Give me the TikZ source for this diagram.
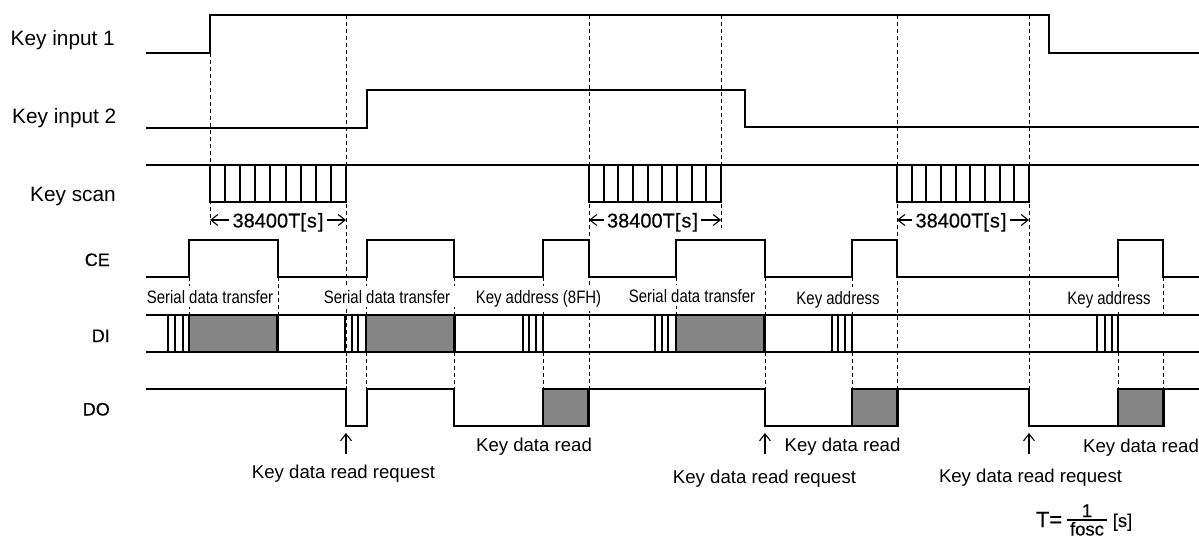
\documentclass[tikz,border=0pt]{standalone}
\usepackage{fontspec}
\setmainfont{Liberation Sans}
\newfontfamily\narrowfont[FakeStretch=0.83]{Liberation Sans}
\newfontfamily\waveformfont[FakeBold=0.4]{Liberation Sans}
\usetikzlibrary{arrows.meta, calc}
\tikzset{
  sig/.style={line width=2.8pt, miter limit=10},
  guide/.style={line width=1pt, dash pattern=on 4pt off 3pt},
  tick/.style={line width=2.1pt},
  dat/.style={line width=2.2pt, draw=black, fill=black!48},
  arrw/.style={-{Straight Barb[length=7pt, width=11pt]}, line width=1.1pt},
  lbl/.style={inner sep=0pt, anchor=base, font=\fontsize{18.6}{20}\selectfont},
  lblkey/.style={inner sep=0pt, anchor=base east, font=\fontsize{20.8}{22}\selectfont},
  lblsig/.style={inner sep=0pt, anchor=base east, font=\fontsize{18}{20}\waveformfont},
  lblnar/.style={inner xsep=1pt, inner ysep=4pt, fill=white, anchor=base, font=\fontsize{18}{20}\narrowfont},
  lblscan/.style={inner sep=0pt, anchor=base, font=\fontsize{20}{22}\waveformfont},
  lblform/.style={inner sep=0pt, anchor=base, font=\fontsize{18.5}{21}\waveformfont}
}
\begin{document}
\begin{tikzpicture}[x=1pt, y=-1pt]
    \useasboundingbox (0,0) rectangle (1199,538);
    \node[lblkey] (k1) at (115,45) {Key input 1};
    \node[lblkey] (k2) at (116.5,123) {Key input 2};
    \node[lblkey] (ks) at (116,201) {Key scan};
    \node[lblsig] (ce) at (110,266) {CE};
    \node[lblsig] (di) at (110,342) {DI};
    \node[lblsig] (do) at (110,415.5) {DO};

    \foreach \x/\a/\b in {210/53/228, 346/15/389, 589/15/389, 721/15/228, 897/15/389,
                          1029/15/389, 189/277/315, 278/277/315, 366/277/315, 454/277/315,
                          543/277/315, 676/277/315, 765/277/315, 852/277/315, 1118/277/315,
                          1163/277/315, 346/352/389, 366/352/389, 454/352/389, 543/352/389,
                          765/352/389, 852/352/389, 1118/352/389, 1163/352/389}
      \draw[guide] (\x,\a) -- (\x,\b);

    \node[lblnar] (sd1) at (210,303) {Serial data transfer};
    \node[lblnar, inner xsep=5pt] (sd2) at (387,303) {Serial data transfer};
    \node[lblnar] (ka1) at (538.5,303) {Key address (8FH)};
    \node[lblnar] (sd3) at (692,302) {Serial data transfer};
    \node[lblnar] (ka2) at (838,304) {Key address};
    \node[lblnar] (ka3) at (1109,304) {Key address};

    \draw[sig] (146,53) -| (210,15) -| (1049,53) -- (1199,53);
    \draw[sig] (146,128) -| (367,90) -| (745,127) -- (1199,127);

    \draw[sig] (146,165) -- (1199,165);
    \foreach \l/\r in {210/346, 589/721, 897/1029} {
      \draw[sig] (\l,165) |- (\r,202) -- (\r,165);
      \foreach \i in {1,...,8}
        \draw[tick] ({\l+\i*(\r-\l)/9},165) -- ({\l+\i*(\r-\l)/9},202);
    }

    \foreach \n/\l/\c/\r in {a/210/278/346, b/589/652.5/721, c/897/961/1029} {
      \node[lblscan] (scan\n) at (\c,227.5) {38400T[\kern1pt s\kern1pt]};
      \coordinate (scan\n L) at (\l,220);
      \coordinate (scan\n R) at (\r,220);
      \draw[arrw] ([xshift=-3pt]scan\n.west |- scan\n L) -- (scan\n L);
      \draw[arrw] ([xshift=3pt]scan\n.east |- scan\n R) -- (scan\n R);
    }

    \draw[sig] (146,277) -| (189,240) -| (278,277) -| (367,240) -| (454,277) -| (543,240)
      -| (589,277) -| (676,240) -| (765,277) -| (852,240) -| (897,277) -| (1118,240)
      -| (1163,277) -- (1199,277);

    \foreach \x in {189,366,676}
      \draw[dat] (\x,315) rectangle ({\x+88.5},352);
    \draw[sig] (146,315) -- (1199,315);
    \draw[sig] (146,352) -- (1199,352);
    \foreach \x in {168,175,183,189, 345,352,358,366, 523,529,536,543,
                    655,662,668,676, 832,838,845,852, 1097,1105,1112,1118}
      \draw[tick] (\x,315) -- (\x,352);

    \foreach \x in {543,852,1118}
      \draw[dat] (\x,389) rectangle ({\x+45.5},426);
    \draw[sig] (146,389) -| (346,426) -| (367,389) -| (454,426) -- (543,426);
    \draw[sig] (589,389) -| (765,426) -- (852,426);
    \draw[sig] (897,389) -| (1029,426) -- (1118,426);
    \draw[sig] (1163,389) -- (1199,389);

    \foreach \n/\x in {a/346, b/765, c/1029} {
      \coordinate (req\n) at (\x,454);
      \coordinate (low\n) at (\x,433);
      \draw[arrw] (req\n) -- (low\n);
    }
    \node[lbl] (rq1) at (343.5,478) {Key data read request};
    \node[lbl] (rq2) at (764.5,483) {Key data read request};
    \node[lbl] (rq3) at (1030.5,482) {Key data read request};
    \node[lbl] (rd1) at (534,451) {Key data read};
    \node[lbl] (rd2) at (842.5,451) {Key data read};
    \node[lbl] (rd3) at (1141,452) {Key data read};

    \node[lblform, font=\fontsize{22}{24}\waveformfont] (teq) at (1049,527) {T=};
    \node[lblform] (tnum) at (1087,517) {1};
    \node[lblform, minimum width=40pt] (tden) at (1087,535.5) {fosc};
    \node[lblform] (tunit) at (1122.5,527) {[s]};
    \draw[line width=1.3pt] (tden.north west |- 0,520) -- (tden.north east |- 0,520);
  \end{tikzpicture}
\end{document}
